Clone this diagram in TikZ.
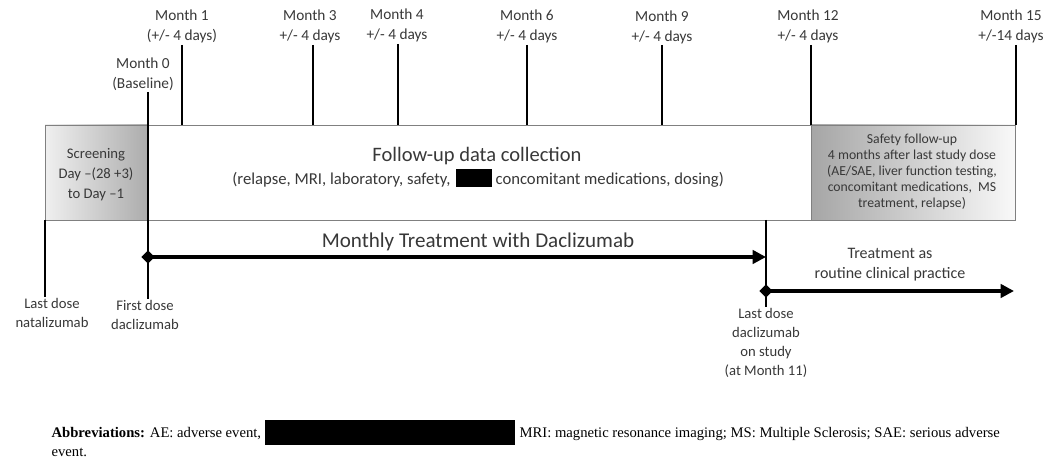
\documentclass[tikz,border=0pt]{standalone}
\usepackage{fontspec}
\setmainfont{Carlito}
\newfontfamily\abbrfont{Liberation Serif}
\usetikzlibrary{arrows.meta}

\begin{document}
\begin{tikzpicture}[x=0.75pt,y=-0.75pt,
  tick/.style={line width=1.9pt},
  arr/.style={line width=3pt,shorten <=-5pt,{Turned Square[length=10pt,width=10pt]}-{Triangle[length=10pt,width=10pt]}},
  lbl/.style={align=center,inner sep=1pt,text=black!78,font=\fontsize{11.5}{15}\selectfont},
  small/.style={align=center,inner sep=1pt,text=black!78,font=\fontsize{10.3}{12}\selectfont},
  abbr/.style={anchor=west,inner sep=1pt,font=\abbrfont\fontsize{11}{13}\selectfont}]
\useasboundingbox (0,0) rectangle (1047,459);

  \coordinate (T) at (0,125);
  \coordinate (B) at (0,220);

% boxes
\draw[gray, left color=gray!12, right color=gray!65] (45,125) rectangle (148,220);
\draw[gray] (148,125) rectangle (811,220);
\draw[gray, left color=gray!70, right color=gray!5] (811,125) rectangle (1015,220);

  \node (scr) at (96,175) [lbl,font=\fontsize{11}{15}\selectfont] {Screening\\Day \textendash(28 +3)\\to Day \textendash1};
  \node (fu) at (477,156) [lbl,font=\fontsize{15.4}{18}\selectfont] {Follow-up data collection};
  \node (fu1) at (452,180) [lbl,anchor=east,font=\fontsize{12.5}{14}\selectfont] {(relapse, MRI, laboratory, safety,};
  \node (red1) at (474,178) [fill=black,minimum width=27pt,minimum height=14pt,inner sep=0pt] {};
  \node (fu2) at (494,180) [lbl,anchor=west,font=\fontsize{12.5}{14}\selectfont] {concomitant medications, dosing)};
  \node (sf) at (912,172) [small] {Safety follow-up\\4 months after last study dose\\(AE/SAE, liver function testing,\\concomitant medications,\ \ MS\\treatment, relapse)};

% ticks with visit labels
  \coordinate (m0) at (148,92);
  \coordinate (m1) at (182,45);
  \coordinate (m3) at (313,45);
  \coordinate (m4) at (398,44);
  \coordinate (m6) at (527,45);
  \coordinate (m9) at (662,45);
  \coordinate (m12) at (811,45);
  \coordinate (m15) at (1016,45);

  \node (M0) at (143,92) [lbl,anchor=south] {Month 0\\(Baseline)};
  \node (M1) at (182,45) [lbl,anchor=south] {Month 1\\(+/- 4 days)};
  \node (M3) at (310,45) [lbl,anchor=south] {Month 3\\+/- 4 days};
  \node (M4) at (397,44) [lbl,anchor=south] {Month 4\\+/- 4 days};
  \node (M6) at (527,45) [lbl,anchor=south] {Month 6\\+/- 4 days};
  \node (M9) at (662,46) [lbl,anchor=south] {Month 9\\+/- 4 days};
  \node (M12) at (808,45) [lbl,anchor=south] {Month 12\\+/- 4 days};
  \node (M15) at (1011,45) [lbl,anchor=south] {Month 15\\+/-14 days};

  \node (LN) at (52,297) [lbl,anchor=north,font=\fontsize{11}{14.25}\selectfont] {Last dose\\natalizumab};
  \node (FD) at (145,299) [lbl,anchor=north,font=\fontsize{11}{14.25}\selectfont] {First dose\\daclizumab};
  \node (LD) at (766,307) [lbl,anchor=north,font=\fontsize{11}{14.25}\selectfont] {Last dose\\daclizumab\\on study\\(at Month 11)};

  \coordinate (n0) at (45,220);
  \coordinate (d11) at (766,220);

\draw[tick]
   (m1) -- (m1 |- T)
   (m3) -- (m3 |- T)
   (m4) -- (m4 |- T)
   (m6) -- (m6 |- T)
   (m9) -- (m9 |- T)
   (m12) -- (m12 |- T)
   (m15) -- (m15 |- T)
   (m0) -- (m0 |- FD.north)
   (n0) -- (n0 |- LN.north)
   (d11) -- (d11 |- LD.north);

% treatment arrows
  \coordinate (a0) at (148,257);
  \coordinate (a1) at (766,257);
  \coordinate (b0) at (766,291);
  \coordinate (b1) at (1014,291);
\draw[arr] (a0) -- (a1);
\draw[arr] (b0) -- (b1);

  \node (mt) at (478,242) [lbl,font=\fontsize{15.8}{18}\selectfont] {Monthly Treatment with Daclizumab};
  \node (rc) at (890,265) [small,font=\fontsize{12}{15}\selectfont] {Treatment as\\routine clinical practice};

% abbreviations
  \node (ab1) at (50,434) [abbr] {\textbf{Abbreviations:} AE: adverse event,};
  \node (red2) at (390,433) [fill=black,minimum width=187.5pt,minimum height=18.75pt,inner sep=0pt] {};
  \node (ab2) at (518,434) [abbr] {MRI: magnetic resonance imaging; MS: Multiple Sclerosis; SAE: serious adverse};
  \node (ab3) at (50,452) [abbr] {event.};

\end{tikzpicture}
\end{document}
